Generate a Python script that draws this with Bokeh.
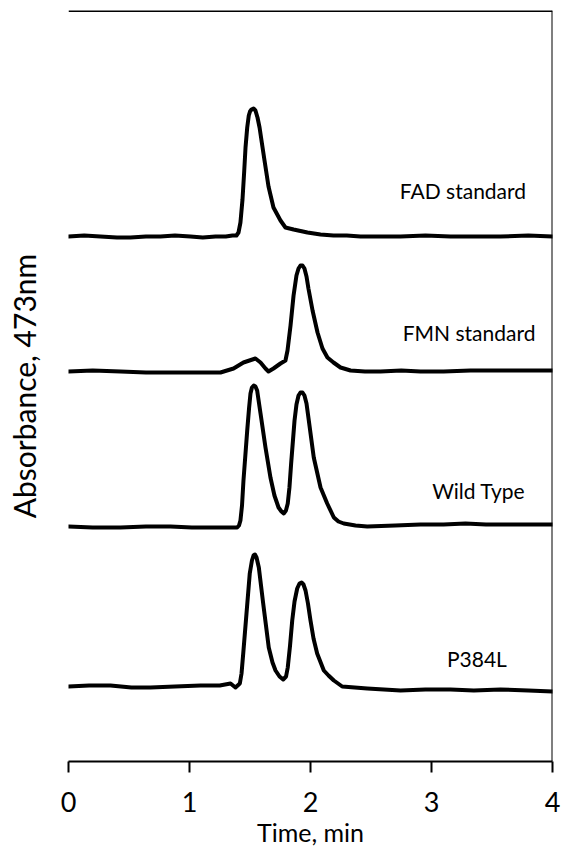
from bokeh.plotting import figure
from bokeh.models import Range1d, FixedTicker, Span
from bokeh.core.properties import value
from bokeh.embed import file_html
from bokeh.resources import INLINE

FONT = "Lato"

# Time (min) and absorbance (arbitrary units, traces offset vertically)
fad_t = [0, 0.130, 0.264, 0.400, 0.512, 0.640, 0.760, 0.880, 1.008, 1.110, 1.215, 1.300, 1.355,
         1.388, 1.405, 1.421, 1.438, 1.452, 1.463, 1.477, 1.490, 1.500, 1.512, 1.529,
         1.545, 1.562, 1.579, 1.595, 1.620, 1.653, 1.694, 1.752, 1.793, 1.860, 1.975, 2.083,
         2.190, 2.300, 2.413, 2.580, 2.744, 2.950, 3.157, 3.350, 3.570, 3.800, 4.0]
fad_a = [525, 526, 525, 524, 524, 525, 525, 526, 525, 524, 525, 525, 526,
         526, 529, 539, 562, 590, 614, 634, 646, 650, 652, 653,
         651, 644, 634, 621, 601, 575, 554, 541, 534, 532, 529, 527,
         526, 526, 525, 525, 525, 526, 525, 525, 525, 526, 525]

fmn_t = [0, 0.200, 0.430, 0.640, 0.843, 1.091, 1.256, 1.364, 1.446, 1.545, 1.587, 1.628, 1.653,
         1.694, 1.752, 1.793, 1.810, 1.822, 1.835, 1.860, 1.884, 1.901, 1.917, 1.934, 1.950,
         1.967, 1.983, 2.017, 2.058, 2.099, 2.140, 2.190, 2.248, 2.331, 2.450, 2.579, 2.750,
         2.909, 3.100, 3.322, 3.520, 3.736, 4.0]
fmn_a = [390, 391, 390, 389, 389, 389, 389, 393, 399, 403, 399, 393, 390,
         393, 398, 401, 411, 423, 436, 466, 486, 493, 496, 496, 493,
         485, 473, 451, 429, 413, 404, 399, 394, 391, 390, 390, 391,
         390, 390, 391, 391, 391, 391]

wt_t = [0, 0.200, 0.430, 0.640, 0.843, 1.020, 1.174, 1.300, 1.394, 1.409, 1.421, 1.434, 1.446,
        1.477, 1.492, 1.504, 1.516, 1.531, 1.545, 1.559, 1.587, 1.628, 1.669, 1.702, 1.736,
        1.760, 1.779, 1.797, 1.812, 1.826, 1.840, 1.868, 1.884, 1.901, 1.917, 1.934, 1.950,
        1.967, 1.986, 2.027, 2.083, 2.138, 2.193, 2.231, 2.275, 2.372, 2.469, 2.700, 2.909,
        3.100, 3.281, 3.450, 3.570, 3.800, 4.0]
wt_a = [235, 234, 234, 235, 235, 234, 234, 234, 234, 236, 241, 256, 281,
        331, 353, 368, 374, 376, 375, 371, 348, 314, 284, 266, 254,
        250, 248, 251, 258, 274, 298, 341, 357, 366, 369, 369, 366,
        358, 341, 304, 274, 258, 244, 240, 238, 236, 235, 236, 237,
        237, 238, 237, 237, 237, 237]

p384l_t = [0, 0.170, 0.347, 0.520, 0.678, 0.880, 1.091, 1.250, 1.339, 1.380, 1.416, 1.430, 1.444,
           1.471, 1.498, 1.516, 1.529, 1.541, 1.554, 1.573, 1.609, 1.655, 1.686, 1.711, 1.744,
           1.774, 1.798, 1.812, 1.831, 1.849, 1.868, 1.890, 1.909, 1.926, 1.942, 1.959, 1.979,
           2.000, 2.025, 2.055, 2.110, 2.149, 2.193, 2.262, 2.469, 2.744, 2.950, 3.157, 3.350,
           3.570, 3.800, 4.0]
p384l_a = [75, 76, 76, 74, 74, 75, 76, 76, 78, 74, 78, 88, 108,
           148, 188, 201, 206, 207, 204, 194, 158, 114, 99, 91, 85,
           82, 85, 94, 116, 141, 160, 173, 178, 179, 177, 171, 158,
           141, 123, 108, 91, 86, 81, 75, 73, 71, 72, 72, 71,
           72, 71, 70]

series_names = ["FAD standard", "FMN standard", "Wild Type", "P384L"]
label_t = [3.26, 3.31, 3.39, 3.375]
label_a = [571, 429, 271, 103]

x_ticks = [0, 1, 2, 3, 4]

p = figure(width=563, height=852, output_backend="svg", toolbar_location=None,
           x_range=Range1d(0, 4), y_range=Range1d(0, 751),
           min_border_left=68, min_border_right=11, min_border_top=10, min_border_bottom=91)

p.background_fill_color = "white"
p.border_fill_color = "white"
p.outline_line_color = None
p.xgrid.visible = False
p.ygrid.visible = False

for t, a in [(fad_t, fad_a), (fmn_t, fmn_a), (wt_t, wt_a), (p384l_t, p384l_a)]:
    p.line(t, a, line_color="black", line_width=4, line_join="round", line_cap="round")

p.text(x=label_t, y=label_a, text=series_names, text_align="center", text_baseline="middle",
       text_font=value(FONT), text_font_size="21px", text_color="black")

# frame: top and right borders
p.add_layout(Span(location=751, dimension="width", line_color="black", line_width=3))
p.add_layout(Span(location=4, dimension="height", line_color="black", line_width=2))

xa = p.xaxis[0]
xa.ticker = FixedTicker(ticks=x_ticks)
xa.axis_line_width = 2
xa.axis_line_color = "black"
xa.major_tick_line_width = 2
xa.major_tick_in = 0
xa.major_tick_out = 11
xa.minor_tick_line_color = None
xa.major_label_text_font = FONT
xa.major_label_text_font_size = "27px"
xa.major_label_text_color = "black"
xa.major_label_standoff = 19
xa.axis_label = "Time, min"
xa.axis_label_text_font = FONT
xa.axis_label_text_font_size = "25px"
xa.axis_label_text_font_style = "normal"
xa.axis_label_text_color = "black"
xa.axis_label_standoff = 2

ya = p.yaxis[0]
ya.ticker = FixedTicker(ticks=[])
ya.axis_line_color = None
ya.major_tick_line_color = None
ya.minor_tick_line_color = None
ya.major_tick_out = 0
ya.major_tick_in = 0
ya.major_label_text_font_size = "0px"
ya.axis_label = "Absorbance, 473nm"
ya.axis_label_text_font = FONT
ya.axis_label_text_font_size = "30px"
ya.axis_label_text_font_style = "normal"
ya.axis_label_text_color = "black"
ya.axis_label_standoff = 27

open("out.html", "w").write(file_html(p, INLINE))
